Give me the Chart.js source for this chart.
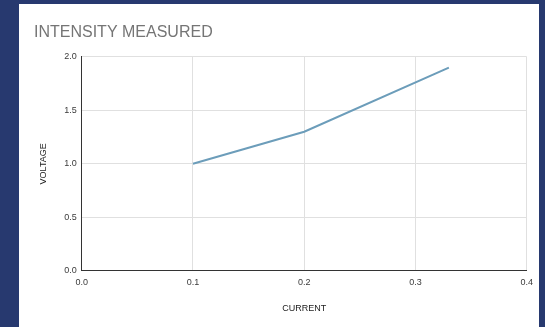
<!DOCTYPE html>
<html>
<head>
<meta charset="utf-8">
<script src="https://cdn.jsdelivr.net/npm/chart.js@4/dist/chart.umd.min.js"></script>
<style>
  html, body { margin: 0; padding: 0; }
  body { width: 545px; height: 327px; background: #27396f; position: relative; overflow: hidden; }
  #card { position: absolute; left: 19px; top: 4px; width: 520px; height: 323px; background: #ffffff; }
  #card canvas { display: block; }
</style>
</head>
<body>
<div id="card"><canvas id="chart" width="520" height="323"></canvas></div>
<script>
// Measured current (A) against voltage (V)
const current = [0.1, 0.2, 0.33];
const voltage = [1.0, 1.3, 1.9];
const xTicks = [0.0, 0.1, 0.2, 0.3, 0.4];
const yTicks = [0.0, 0.5, 1.0, 1.5, 2.0];

const FONT = "'Liberation Sans', Arial, sans-serif";
const points = current.map((c, i) => ({ x: c, y: voltage[i] }));

new Chart(document.getElementById('chart'), {
  type: 'line',
  data: {
    datasets: [{
      data: points,
      borderColor: '#6c9dba',
      borderWidth: 2,
      pointRadius: 0,
      pointHoverRadius: 0,
      tension: 0,
      fill: false
    }]
  },
  options: {
    responsive: false,
    animation: false,
    devicePixelRatio: 1,
    layout: { padding: { left: 15, right: 12, top: 0, bottom: 0 } },
    plugins: {
      legend: { display: false },
      tooltip: { enabled: false },
      title: {
        display: true,
        text: 'INTENSITY MEASURED',
        align: 'start',
        color: '#757575',
        font: { family: FONT, size: 16, weight: 'normal', lineHeight: 1.2 },
        padding: { top: 18.9, bottom: 14.8 }
      }
    },
    scales: {
      x: {
        type: 'linear',
        min: xTicks[0],
        max: xTicks[xTicks.length - 1],
        afterBuildTicks: s => { s.ticks = xTicks.map(v => ({ value: v })); },
        afterFit: s => { s.height = 56.3; },
        ticks: {
          color: '#3a3a3a',
          font: { family: FONT, size: 9 },
          padding: 6,
          callback: v => Number(v).toFixed(1)
        },
        grid: { color: '#e0e0e0', drawTicks: false },
        border: { color: '#333333', width: 1 },
        title: {
          display: true,
          text: 'CURRENT',
          color: '#222222',
          font: { family: FONT, size: 9, lineHeight: 1.2 },
          padding: { top: 0, bottom: 13.2 }
        }
      },
      y: {
        type: 'linear',
        min: yTicks[0],
        max: yTicks[yTicks.length - 1],
        afterBuildTicks: s => { s.ticks = yTicks.map(v => ({ value: v })); },
        afterFit: s => { s.width = 47.7; },
        ticks: {
          color: '#3a3a3a',
          font: { family: FONT, size: 9 },
          padding: 5,
          callback: v => Number(v).toFixed(1)
        },
        grid: { color: '#e0e0e0', drawTicks: false },
        border: { color: '#333333', width: 1 },
        title: {
          display: true,
          text: 'VOLTAGE',
          color: '#222222',
          font: { family: FONT, size: 9, lineHeight: 1.2 },
          padding: { top: 4.3, bottom: 0 }
        }
      }
    }
  }
});
</script>
</body>
</html>
